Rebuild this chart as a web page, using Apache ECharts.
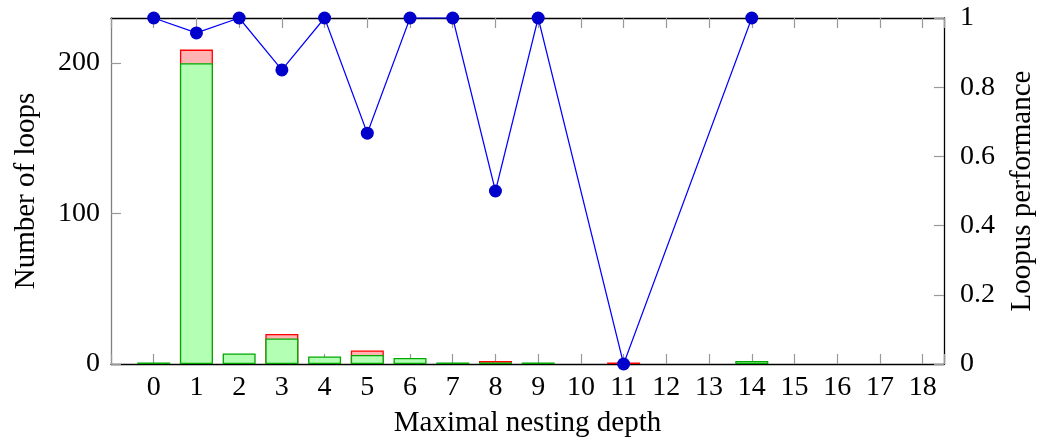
<!DOCTYPE html>
<html>
<head>
<meta charset="utf-8">
<script src="https://cdn.jsdelivr.net/npm/echarts@6/dist/echarts.min.js"></script>
<style>
html,body{margin:0;padding:0;background:#fff;}
#chart{width:1043px;height:441px;}
</style>
</head>
<body>
<div id="chart"></div>
<script>
const depths = [0,1,2,3,4,5,6,7,8,9,10,11,12,13,14,15,16,17,18];
const succeeded = [1,200,7,17,5,6,4,1,1,1,null,null,null,null,2,null,null,null,null];
const failed    = [null,9,null,3,null,3,null,null,1,null,null,1,null,null,null,null,null,null,null];
const performance = [1,0.957,1,0.85,1,0.667,1,1,0.5,1,null,0,null,null,1,null,null,null,null];
const leftTicks = [0,100,200];
const rightTicks = [0,0.2,0.4,0.6,0.8,1];

const FONT = 'Liberation Serif';
const FS = 28;
const NFS = 29;

const chart = echarts.init(document.getElementById('chart'), null, {renderer:'canvas'});
const greenData = depths.map((d,i) => [d, succeeded[i] === null ? '-' : succeeded[i]]);
const redData = depths.map((d,i) => [d, failed[i] === null ? '-' : (succeeded[i] || 0) + failed[i]]);
const perfData = depths.map((d,i)=>[d, performance[i]]).filter(p => p[1] !== null);

const tick = () => ({show:true, inside:true, length:10, lineStyle:{color:'#999999', width:1.2}});
// x ticks: drawn by helper axes shifted 10px into the plot, with outward ticks reaching the frame
const tickAxis = (pos) => ({
  type:'value', min:-1, max:18.5, interval:1, position:pos, offset:-10,
  axisLine:{show:false, onZero:false},
  axisTick:{show:true, inside:false, length:10, lineStyle:{color:'#999999', width:1.2}},
  splitLine:{show:false},
  axisLabel:{show:false}
});

chart.setOption({
  animation:false,
  backgroundColor:'#ffffff',
  textStyle:{fontFamily:FONT, color:'#000'},
  grid:{left:111, right:99, top:18, bottom:77, containLabel:false, outerBoundsMode:'none'},
  xAxis:[{
    type:'value', min:-1, max:18.5, interval:1, position:'bottom',
    name:'Maximal nesting depth', nameLocation:'middle', nameGap:45,
    nameTextStyle:{fontFamily:FONT, fontSize:NFS, color:'#000'},
    axisLine:{show:true, onZero:false, lineStyle:{color:'#000', width:1.3}},
    axisTick:{show:false},
    splitLine:{show:false},
    axisLabel:{show:true, showMinLabel:false, showMaxLabel:false, fontFamily:FONT, fontSize:FS, color:'#000', margin:10,
      formatter:(v)=> (depths.indexOf(v) >= 0 ? String(v) : '')}
  },{
    type:'value', min:-1, max:18.5, interval:1, position:'top',
    axisLine:{show:true, onZero:false, lineStyle:{color:'#000', width:1.3}},
    axisTick:{show:false},
    splitLine:{show:false},
    axisLabel:{show:false}
  },
  tickAxis('bottom'),
  tickAxis('top')
  ],
  yAxis:[{
    type:'value', min:0, max:230, interval:100, position:'left',
    name:'Number of loops', nameLocation:'middle', nameGap:70, nameRotate:90,
    nameTextStyle:{fontFamily:FONT, fontSize:NFS, color:'#000'},
    axisLine:{show:true, onZero:false, lineStyle:{color:'#808080', width:1.3}},
    axisTick:tick(),
    splitLine:{show:false},
    axisLabel:{showMaxLabel:false, fontFamily:FONT, fontSize:FS, color:'#000', margin:11,
      formatter:(v)=> (leftTicks.indexOf(v) >= 0 ? String(v) : '')}
  },{
    type:'value', min:0, max:1, interval:0.2, position:'right',
    name:'Loopus performance', nameLocation:'middle', nameGap:64, nameRotate:90,
    nameTextStyle:{fontFamily:FONT, fontSize:NFS, color:'#000'},
    axisLine:{show:true, onZero:false, lineStyle:{color:'#000', width:1.3}},
    axisTick:tick(),
    splitLine:{show:false},
    axisLabel:{fontFamily:FONT, fontSize:FS, color:'#000', margin:16,
      formatter:(v)=> { const r = Math.round(v*10)/10; return rightTicks.indexOf(r) >= 0 ? String(r) : ''; }}
  }],
  series:[{
    name:'failed', type:'bar', xAxisIndex:0, yAxisIndex:0,
    barWidth:33, barGap:'-100%',
    itemStyle:{color:'#ffb3b3', borderColor:'#ff0000', borderWidth:1.3},
    data:redData, z:2
  },{
    name:'succeeded', type:'bar', xAxisIndex:0, yAxisIndex:0,
    barWidth:33, barGap:'-100%',
    itemStyle:{color:'#b3ffb3', borderColor:'#00a800', borderWidth:1.3},
    data:greenData, z:3
  },{
    name:'performance', type:'line', xAxisIndex:0, yAxisIndex:1,
    symbol:'circle', symbolSize:13, showSymbol:true,
    lineStyle:{color:'#0000ff', width:1.2},
    itemStyle:{color:'#0000cc', borderColor:'#0000cc', borderWidth:0},
    data:perfData, z:5, clip:false
  }]
});
</script>
</body>
</html>
